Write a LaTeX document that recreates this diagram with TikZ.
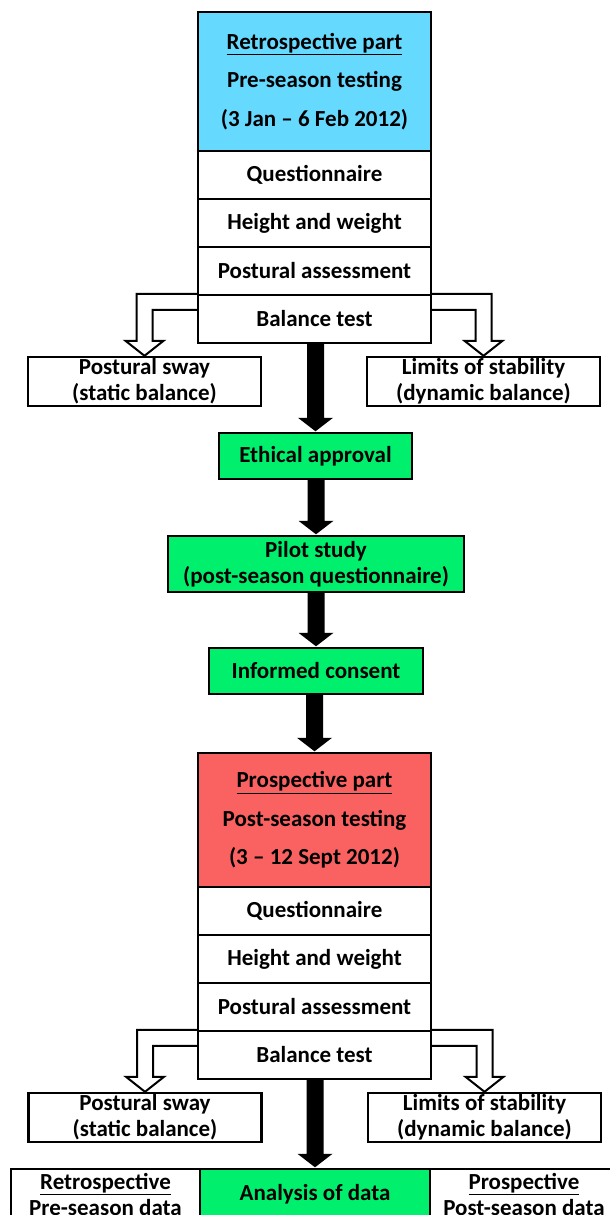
\documentclass[tikz,border=0pt]{standalone}
\usepackage{fontspec}
\setmainfont{Carlito}
\usetikzlibrary{calc}
\definecolor{boxblue}{RGB}{102,217,255}
\definecolor{boxgreen}{RGB}{0,240,110}
\definecolor{boxred}{RGB}{250,98,98}
\newcommand\BigArr[2]{\fill let \p1=(#1.south), \p2=(#2.north) in
  (\x2-8.5pt,\y1+2pt) -- (\x2-8.5pt,\y2+14pt) -- (\x2-17.5pt,\y2+14pt) -- (\x2,\y2+0.5pt)
  -- (\x2+17.5pt,\y2+14pt) -- (\x2+8.5pt,\y2+14pt) -- (\x2+8.5pt,\y1+2pt) -- cycle;}
\begin{document}
\begin{tikzpicture}[x=1pt,y=-1pt,
  box/.style={draw, line width=2.4pt, inner sep=0pt, align=center,
    font=\fontsize{23}{26}\selectfont\bfseries},
  headbox/.style={box, minimum width=233pt, font=\fontsize{23}{38.5}\selectfont\bfseries},
  stackbox/.style={box, minimum width=233pt, minimum height=48pt},
  sidebox/.style={box, minimum width=233pt, minimum height=49pt},
  greenbox/.style={box, fill=boxgreen},
  hollow/.style={draw, fill=white, line width=2pt, line join=miter}]
\useasboundingbox (0,0) rectangle (610,1215);
\clip (0,0) rectangle (610,1215);
% top part
\node[headbox, fill=boxblue, minimum height=139pt] (top) at (314.5,81.5)
  {\underline{Retrospective part}\\Pre-season testing\\(3 Jan – 6 Feb 2012)};
\node[stackbox] (q1) at (314.5,175) {Questionnaire};
\node[stackbox] (h1) at (314.5,223) {Height and weight};
\node[stackbox] (p1) at (314.5,271) {Postural assessment};
\node[stackbox] (b1) at (314.5,319) {Balance test};
\node[sidebox] (ps1) at (144.5,381.5) {Postural sway\\(static balance)};
\node[sidebox] (ls1) at (483.5,381.5) {Limits of stability\\(dynamic balance)};
% middle
\node[greenbox, minimum width=193pt, minimum height=46pt] (eth) at (315.5,456) {Ethical approval};
\node[greenbox, minimum width=296pt, minimum height=56pt] (pil) at (316,564) {Pilot study\\(post-season questionnaire)};
\node[greenbox, minimum width=214pt, minimum height=46pt] (inf) at (316,671) {Informed consent};
% bottom part
\node[headbox, fill=boxred, minimum height=134pt] (pro) at (314.5,820)
  {\underline{Prospective part}\\Post-season testing\\(3 – 12 Sept 2012)};
\node[stackbox] (q2) at (314.5,911) {Questionnaire};
\node[stackbox] (h2) at (314.5,959) {Height and weight};
\node[stackbox] (p2) at (314.5,1007) {Postural assessment};
\node[stackbox] (b2) at (314.5,1055) {Balance test};
\node[sidebox] (ps2) at (145,1117.5) {Postural sway\\(static balance)};
\node[sidebox] (ls2) at (484.5,1117.5) {Limits of stability\\(dynamic balance)};
% analysis row
\node[box, minimum width=189pt, minimum height=50pt] (retro) at (105.5,1194)
  {\underline{Retrospective}\\Pre-season data};
\node[greenbox, minimum width=230pt, minimum height=50pt] (ana) at (315,1194) {Analysis of data};
\node[box, minimum width=188pt, minimum height=50pt] (prosp) at (524,1194)
  {\underline{Prospective}\\Post-season data};
% hollow arrows
\draw[hollow] (b1.north west) -| ($(ps1.north)+(-8,-15)$) -- ++(-11,0) -- (ps1.north)
  -- ++(19,-15) -- ++(-11,0) |- ($(b1.north west)+(0,16)$);
\draw[hollow] (b1.north east) -| ($(ls1.north)+(8,-15)$) -- ++(11,0) -- (ls1.north)
  -- ++(-19,-15) -- ++(11,0) |- ($(b1.north east)+(0,16)$);
\draw[hollow] (b2.north west) -| ($(ps2.north)+(-8,-15)$) -- ++(-11,0) -- (ps2.north)
  -- ++(19,-15) -- ++(-11,0) |- ($(b2.north west)+(0,16)$);
\draw[hollow] (b2.north east) -| ($(ls2.north)+(8,-15)$) -- ++(11,0) -- (ls2.north)
  -- ++(-19,-15) -- ++(11,0) |- ($(b2.north east)+(0,16)$);
% black arrows
\BigArr{b1}{eth}
\BigArr{eth}{pil}
\BigArr{pil}{inf}
\BigArr{inf}{pro}
\BigArr{b2}{ana}
\end{tikzpicture}
\end{document}
